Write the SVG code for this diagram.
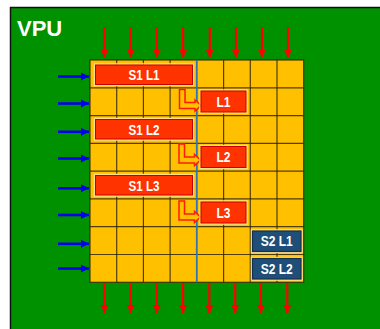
<svg xmlns="http://www.w3.org/2000/svg" width="380" height="329" viewBox="0 0 380 329">
<defs>
<marker id="ahRed" markerUnits="userSpaceOnUse" markerWidth="9" markerHeight="9" refX="8" refY="4.5" orient="auto">
<path d="M0,0.5 L8,4.5 L0,8.5 z" fill="#FF0000"/>
</marker>
<marker id="ahBlue" markerUnits="userSpaceOnUse" markerWidth="9" markerHeight="9" refX="8" refY="4.5" orient="auto">
<path d="M0,0.5 L8,4.5 L0,8.5 z" fill="#0000EE"/>
</marker>
</defs>
<style>
.lbl{font-family:"Liberation Sans",Arial,sans-serif;font-weight:bold;fill:#FFFFFF;text-anchor:middle}
.bar{fill:#FF3300;stroke:#C80000;stroke-width:1}
.glow{fill:none;stroke:#FFE08A;stroke-width:1.5}
.nav{fill:#1F4E79;stroke:#13314F;stroke-width:1.2}
.grid{stroke:#332700;stroke-width:1.2;stroke-opacity:0.85}
.ra{stroke:#FF0000;stroke-width:2.2;marker-end:url(#ahRed)}
.ba{stroke:#0000EE;stroke-width:2.6;marker-end:url(#ahBlue)}
.larr{fill:#FFC000;stroke:#FF1A00;stroke-width:1.5;stroke-linejoin:miter}
</style>
<rect x="0" y="0" width="380" height="329" fill="#FFFFFF"/>
<rect x="10.5" y="7.5" width="380" height="330" fill="#009100" stroke="#111111" stroke-width="1.5"/>
<g id="vpu-label"><text x="17" y="35.5" class="lbl" style="text-anchor:start;font-size:22px">VPU</text></g>

<g id="grid">
<rect x="90" y="60" width="213.7" height="222.3" fill="#FFC000"/>
<g class="grid">
<line x1="116.7" y1="60" x2="116.7" y2="282.3"/>
<line x1="143.4" y1="60" x2="143.4" y2="282.3"/>
<line x1="170.1" y1="60" x2="170.1" y2="282.3"/>
<line x1="223.6" y1="60" x2="223.6" y2="282.3"/>
<line x1="250.3" y1="60" x2="250.3" y2="282.3"/>
<line x1="277.0" y1="60" x2="277.0" y2="282.3"/>
<line x1="90" y1="87.8" x2="303.7" y2="87.8"/>
<line x1="90" y1="115.6" x2="303.7" y2="115.6"/>
<line x1="90" y1="143.4" x2="303.7" y2="143.4"/>
<line x1="90" y1="171.2" x2="303.7" y2="171.2"/>
<line x1="90" y1="198.9" x2="303.7" y2="198.9"/>
<line x1="90" y1="226.7" x2="303.7" y2="226.7"/>
<line x1="90" y1="254.5" x2="303.7" y2="254.5"/>
<rect x="90" y="60" width="213.7" height="222.3" fill="none"/>
</g>
<line x1="196.8" y1="60" x2="196.8" y2="282.3" stroke="#2E75B6" stroke-width="1.8"/>
</g>

<g id="connectors">
<line class="ra" x1="104.5" y1="27" x2="104.5" y2="57.5"/>
<line class="ra" x1="130.7" y1="27" x2="130.7" y2="57.5"/>
<line class="ra" x1="156.9" y1="27" x2="156.9" y2="57.5"/>
<line class="ra" x1="183.1" y1="27" x2="183.1" y2="57.5"/>
<line class="ra" x1="209.8" y1="27" x2="209.8" y2="57.5"/>
<line class="ra" x1="236" y1="27" x2="236" y2="57.5"/>
<line class="ra" x1="262" y1="27" x2="262" y2="57.5"/>
<line class="ra" x1="288" y1="27" x2="288" y2="57.5"/>
<line class="ra" x1="104.5" y1="283" x2="104.5" y2="313"/>
<line class="ra" x1="130.7" y1="283" x2="130.7" y2="313"/>
<line class="ra" x1="156.9" y1="283" x2="156.9" y2="313"/>
<line class="ra" x1="183.1" y1="283" x2="183.1" y2="313"/>
<line class="ra" x1="209.3" y1="283" x2="209.3" y2="313"/>
<line class="ra" x1="235.2" y1="283" x2="235.2" y2="313"/>
<line class="ra" x1="261" y1="283" x2="261" y2="313"/>
<line class="ra" x1="287.3" y1="283" x2="287.3" y2="313"/>
<line class="ba" x1="58" y1="76.5" x2="89" y2="76.5"/>
<line class="ba" x1="58" y1="103.5" x2="89" y2="103.5"/>
<line class="ba" x1="58" y1="131.8" x2="89" y2="131.8"/>
<line class="ba" x1="58" y1="158.5" x2="89" y2="158.5"/>
<line class="ba" x1="58" y1="188.3" x2="89" y2="188.3"/>
<line class="ba" x1="58" y1="215" x2="89" y2="215"/>
<line class="ba" x1="58" y1="243.8" x2="89" y2="243.8"/>
<line class="ba" x1="58" y1="268.5" x2="89" y2="268.5"/>
<path class="larr" d="M179.5,89.5 h5.5 v13 h10 v-2.5 l6,5.5 l-6,5.5 v-2.5 h-15.5 z"/>
<path class="larr" d="M179,144 h5.5 v13 h10 v-2.5 l6,5.5 l-6,5.5 v-2.5 h-15.5 z"/>
<path class="larr" d="M179,201 h5.5 v13 h10 v-2.5 l6,5.5 l-6,5.5 v-2.5 h-15.5 z"/>
</g>

<g id="s1l1"><rect class="glow" x="94.5" y="64" width="99" height="21.5"/><rect class="bar" x="95.5" y="65" width="97" height="19.5"/><text class="lbl" x="144" y="80" font-size="14" textLength="31" lengthAdjust="spacingAndGlyphs">S1 L1</text></g>
<g id="s1l2"><rect class="glow" x="94.5" y="118.5" width="99" height="21.5"/><rect class="bar" x="95.5" y="119.5" width="97" height="19.5"/><text class="lbl" x="144" y="134.5" font-size="14" textLength="31" lengthAdjust="spacingAndGlyphs">S1 L2</text></g>
<g id="s1l3"><rect class="glow" x="94.5" y="174.5" width="99" height="21.5"/><rect class="bar" x="95.5" y="175.5" width="97" height="19.5"/><text class="lbl" x="144" y="190.5" font-size="14" textLength="31" lengthAdjust="spacingAndGlyphs">S1 L3</text></g>

<g id="l1"><rect class="glow" x="200" y="90" width="47" height="23"/><rect class="bar" x="201" y="91" width="45" height="21"/><text class="lbl" x="223.5" y="106.5" font-size="14" textLength="14" lengthAdjust="spacingAndGlyphs">L1</text></g>
<g id="l2"><rect class="glow" x="200" y="145.5" width="47" height="23"/><rect class="bar" x="201" y="146.5" width="45" height="21"/><text class="lbl" x="223.5" y="162" font-size="14" textLength="14" lengthAdjust="spacingAndGlyphs">L2</text></g>
<g id="l3"><rect class="glow" x="200" y="201" width="47" height="23"/><rect class="bar" x="201" y="202" width="45" height="21"/><text class="lbl" x="223.5" y="217.5" font-size="14" textLength="14" lengthAdjust="spacingAndGlyphs">L3</text></g>

<g id="s2l1"><rect class="glow" x="251.5" y="230" width="50.5" height="22.5"/><rect class="nav" x="252.5" y="231" width="48.5" height="20.5"/><text class="lbl" x="276.8" y="246.2" font-size="14" textLength="32" lengthAdjust="spacingAndGlyphs">S2 L1</text></g>
<g id="s2l2"><rect class="glow" x="251.5" y="257.5" width="50.5" height="22.5"/><rect class="nav" x="252.5" y="258.5" width="48.5" height="20.5"/><text class="lbl" x="276.8" y="273.7" font-size="14" textLength="32" lengthAdjust="spacingAndGlyphs">S2 L2</text></g>
</svg>
